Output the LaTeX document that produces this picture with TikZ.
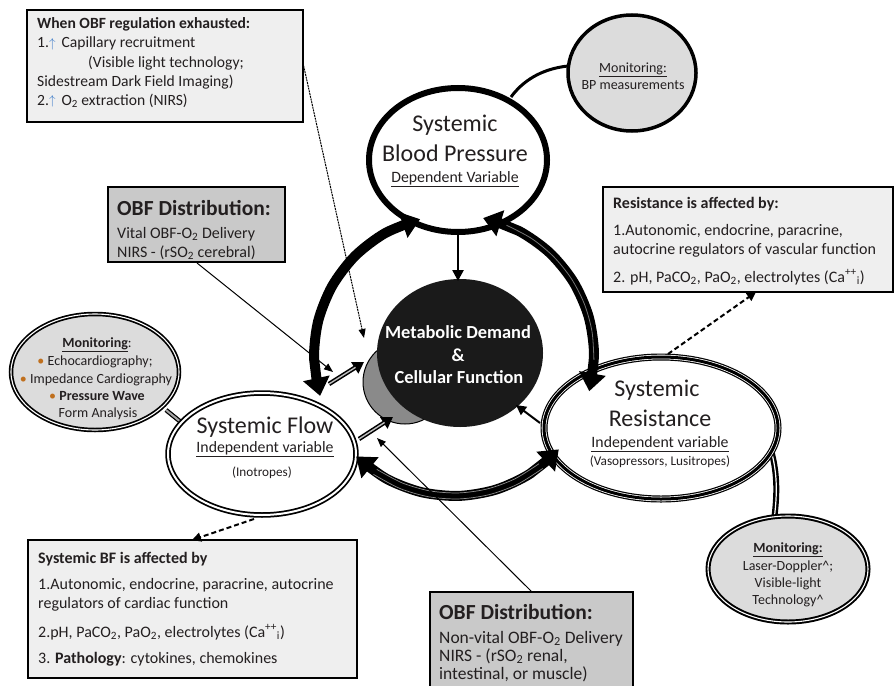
\documentclass[tikz,border=0pt]{standalone}
\usepackage{fontspec}
\setmainfont{Carlito}
\usetikzlibrary{arrows.meta,calc}
\definecolor{boxlight}{HTML}{EFEFEF}
\definecolor{boxgray}{HTML}{C9C9C9}
\definecolor{monfill}{HTML}{DCDCDC}
\definecolor{upblue}{HTML}{3D7CC9}
\definecolor{bulletc}{HTML}{C0701E}
\definecolor{txtc}{HTML}{231F20}
\definecolor{centerblack}{HTML}{1A1A1A}
\definecolor{centergray}{HTML}{8A8A8A}
\newcommand{\myfs}[2]{\fontsize{#1}{#2}\selectfont}
\newcommand{\upar}{\smash{\textcolor{upblue}{\raisebox{0.5pt}{\scalebox{0.9}{$\uparrow$}}}}}
\newcommand{\bul}{\textcolor{bulletc}{\textbullet}}
\newcommand{\mysub}[1]{\smash{\textsubscript{#1}}}
\newcommand{\mysup}[1]{\smash{\textsuperscript{#1}}}
\begin{document}
\begin{tikzpicture}[x=1pt,y=-1pt,
  boxline/.style={draw=black, line width=1.4pt},
  lbl/.style={inner sep=0pt, anchor=base west, text=txtc},
  clbl/.style={inner sep=0pt, anchor=base, text=txtc},
  thinarrow/.style={line width=1pt, -{Triangle[length=9pt,width=7pt]}},
  dasharrow/.style={line width=2pt, dash pattern=on 5pt off 3pt, -{Triangle[length=9pt,width=9pt]}},
  ringarrow/.style={line width=10pt, {Triangle[length=18pt,width=26pt]}-{Triangle[length=18pt,width=26pt]}},
  fatarrow/.style={line width=4.5pt, -{Triangle[length=11pt,width=13pt]}},
]
\useasboundingbox (0,0) rectangle (896,685);
\clip (0,0) rectangle (896,685);
\fill[white] (0,0) rectangle (896,685);

% ---------- boxes ----------
\draw[boxline, fill=boxlight] (27,10) rectangle (303,122);
\draw[boxline, fill=boxgray] (108,187) rectangle (285,262);
\draw[boxline, fill=boxlight] (603,187) rectangle (893,292);
\draw[boxline, fill=boxlight] (28,540) rectangle (357,678);
\draw[boxline, fill=boxgray] (430,592) rectangle (633,700);

% ---------- named points ----------
\coordinate (tlout) at (303,63);
\coordinate (vitout) at (197,263);
\coordinate (nvout) at (532,592);
\coordinate (tipA) at (364,338);
\coordinate (tipB) at (333,372);
\coordinate (tipC) at (377,438);
\coordinate (BPc) at (458,160);
\coordinate (FLc) at (262,454);
\coordinate (RSc) at (661,428);
\coordinate (MDc) at (460,353);
\coordinate (GRc) at (405,382);
\coordinate (M1c) at (95,372);
\coordinate (M2c) at (632,73);
\coordinate (M3c) at (788,569);

% ---------- monitoring connectors ----------
\coordinate (m2a) at (568,66);
\coordinate (m2b) at (511,97);
\draw[line width=3pt] (m2a) .. controls (540,69) and (522,82) .. (m2b);
\coordinate (m1a) at (166,410);
\coordinate (m1b) at (182,423);
\draw[line width=4.5pt] (m1a) -- (m1b);
\draw[line width=2pt, gray!70] (m1a) -- (m1b);
\coordinate (m3a) at (771,450);
\coordinate (m3b) at (774,520);
\draw[line width=6pt] (m3a) .. controls (778,475) and (777,497) .. (m3b);
\draw[line width=1.2pt, white] (m3a) .. controls (778,475) and (777,497) .. (m3b);

% ---------- monitoring ellipses ----------
\draw[line width=4.5pt, fill=monfill] (M1c) ellipse [x radius=84pt, y radius=58pt];
\draw[line width=1.1pt, white] (M1c) ellipse [x radius=84pt, y radius=58pt];
\draw[line width=3.5pt, fill=monfill] (M2c) ellipse [x radius=64pt, y radius=58pt];
\draw[line width=5pt, fill=monfill] (M3c) ellipse [x radius=80pt, y radius=53pt];
\draw[line width=1.1pt, white] (M3c) ellipse [x radius=80pt, y radius=53pt];

% ---------- main ellipses ----------
\draw[line width=6pt, fill=white] (BPc) ellipse [x radius=89pt, y radius=72pt];
\draw[line width=5.5pt, fill=white] (FLc) ellipse [x radius=94pt, y radius=61pt];
\draw[line width=2pt, white] (FLc) ellipse [x radius=94pt, y radius=61pt];
\draw[line width=7pt, fill=white] (RSc) ellipse [x radius=117pt, y radius=71pt];
\draw[line width=4.6pt, white] (RSc) ellipse [x radius=117pt, y radius=71pt];
\draw[line width=3pt] (RSc) ellipse [x radius=117pt, y radius=71pt];

% ---------- centre ----------
\draw[line width=1pt, fill=centergray] (GRc) circle [radius=42pt];
\fill[centerblack] (MDc) ellipse [x radius=83pt, y radius=74pt];

% ---------- ring arcs ----------
\draw[ringarrow] plot[smooth, samples=7, domain=163:256] ({454+140*cos(\x)},{355+140*sin(\x)});
\draw[ringarrow] plot[smooth, samples=7, domain=282:375] ({454+140*cos(\x)},{355+140*sin(\x)});
\draw[line width=0.8pt, black!55] plot[smooth, samples=7, domain=292:362] ({454+140*cos(\x)},{355+140*sin(\x)});
\draw[ringarrow] plot[smooth, samples=7, domain=42:134] ({454+141*cos(\x)},{355+141*sin(\x)});
\draw[line width=0.7pt, black!45] plot[smooth, samples=7, domain=52:124] ({454+138*cos(\x)},{355+138*sin(\x)});
\draw[line width=0.7pt, black!45] plot[smooth, samples=7, domain=52:124] ({454+144*cos(\x)},{355+144*sin(\x)});

% ---------- arrows into the centre ----------
\coordinate (bpbot) at (458,233);
\coordinate (mdtop) at (458,281);
\draw[line width=2.5pt, -{Triangle[length=11pt,width=11pt]}] (bpbot) -- (mdtop);
\coordinate (rsin) at (540,423);
\coordinate (mdright) at (516,405);
\draw[line width=2pt, -{Triangle[length=10pt,width=10pt]}] (rsin) -- (mdright);
\coordinate (fl1a) at (329,384);
\coordinate (fl1b) at (364,362);
\coordinate (fl2a) at (359,439);
\coordinate (fl2b) at (393,417);
\draw[fatarrow] (fl1a) -- (fl1b);
\draw[line width=1.4pt, white!75!black, shorten >=10pt] (fl1a) -- (fl1b);
\draw[fatarrow] (fl2a) -- (fl2b);
\draw[line width=1.4pt, white!75!black, shorten >=10pt] (fl2a) -- (fl2b);

% ---------- thin arrows ----------
\draw[thinarrow, dash pattern=on 2pt off 0.8pt] (tlout) -- (tipA);
\draw[thinarrow] (vitout) -- (tipB);
\draw[thinarrow] (nvout) -- (tipC);

% ---------- dashed arrows ----------
\coordinate (rstop) at (668,354);
\coordinate (rbox) at (756,292);
\draw[dasharrow] (rstop) -- (rbox);
\coordinate (flbot) at (254,519);
\coordinate (lbox) at (192,540);
\draw[dasharrow] (flbot) -- (lbox);

% ---------- texts: top-left box ----------
\node[lbl, font=\myfs{15.6}{18}] (tl1) at (37,29) {\textbf{When OBF regulation exhausted:}};
\node[lbl, font=\myfs{15.6}{18}] (tl2) at (37,48) {1.\upar\hspace{6pt}Capillary recruitment};
\node[lbl, font=\myfs{15.6}{18}] (tl3) at (88,67) {(Visible light technology;};
\node[lbl, font=\myfs{15.6}{18}] (tl4) at (37,86) {Sidestream Dark Field Imaging)};
\node[lbl, font=\myfs{15.6}{18}] (tl5) at (37,105) {2.\upar\hspace{6pt}O\mysub{2} extraction (NIRS)};

% ---------- vital box ----------
\node[lbl, font=\myfs{21.5}{24}\bfseries] (vt1) at (117,215) {OBF Distribution:};
\node[lbl, font=\myfs{16}{18}] (vt2) at (117,238) {Vital OBF-O\mysub{2} Delivery};
\node[lbl, font=\myfs{16}{18}] (vt3) at (117,257) {NIRS - (rSO\mysub{2} cerebral)};

% ---------- right box ----------
\node[lbl, font=\myfs{16}{18}\bfseries] (rb1) at (613,208) {Resistance is affected by:};
\node[lbl, font=\myfs{16}{18}] (rb2) at (613,235) {1.Autonomic, endocrine, paracrine,};
\node[lbl, font=\myfs{16}{18}] (rb3) at (613,254) {autocrine regulators of vascular function};
\node[lbl, font=\myfs{16}{18}] (rb4) at (613,282) {2. pH, PaCO\mysub{2}, PaO\mysub{2}, electrolytes (Ca\mysup{++}\mysub{i})};

% ---------- bottom-left box ----------
\node[lbl, font=\myfs{16}{18}\bfseries] (bl1) at (38,563) {Systemic BF is affected by};
\node[lbl, font=\myfs{16}{18}] (bl2) at (38,589) {1.Autonomic, endocrine, paracrine, autocrine};
\node[lbl, font=\myfs{16}{18}] (bl3) at (38,608) {regulators of cardiac function};
\node[lbl, font=\myfs{16}{18}] (bl4) at (38,637) {2.pH, PaCO\mysub{2}, PaO\mysub{2}, electrolytes (Ca\mysup{++}\mysub{i})};
\node[lbl, font=\myfs{16}{18}] (bl5) at (38,663) {3. \textbf{Pathology}: cytokines, chemokines};

% ---------- bottom box ----------
\node[lbl, font=\myfs{21.5}{24}\bfseries] (nv1) at (439,619) {OBF Distribution:};
\node[lbl, font=\myfs{17.5}{20}] (nv2) at (439,643) {Non-vital OBF-O\mysub{2} Delivery};
\node[lbl, font=\myfs{17.5}{20}] (nv3) at (439,661) {NIRS - (rSO\mysub{2} renal,};
\node[lbl, font=\myfs{17.5}{20}] (nv4) at (439,679) {intestinal, or muscle)};

% ---------- ellipse texts ----------
\node[clbl, font=\myfs{24}{27}] (bp1) at (455,131) {Systemic};
\node[clbl, font=\myfs{24}{27}] (bp2) at (455,161) {Blood Pressure};
\node[clbl, font=\myfs{15.8}{18}] (bp3) at (455,182) {\underline{Dependent Variable}};

\node[clbl, font=\myfs{24}{27}] (fl1) at (265,433) {Systemic Flow};
\node[clbl, font=\myfs{15.8}{18}] (fl2) at (265,452) {\underline{Independent variable}};
\node[clbl, font=\myfs{13.2}{15}] (fl3) at (262,476) {(Inotropes)};

\node[clbl, font=\myfs{24}{27}] (rs1) at (657,396) {Systemic};
\node[clbl, font=\myfs{24}{27}] (rs2) at (660,426) {Resistance};
\node[clbl, font=\myfs{15.8}{18}] (rs3) at (660,447) {\underline{Independent variable}};
\node[clbl, font=\myfs{13.3}{15}] (rs4) at (660,465) {(Vasopressors, Lusitropes)};

\node[clbl, font=\myfs{18.4}{21}\bfseries, text=white] (md1) at (458,338) {Metabolic Demand};
\node[clbl, font=\myfs{18.4}{21}\bfseries, text=white] (md2) at (458,361) {\&};
\node[clbl, font=\myfs{18.4}{21}\bfseries, text=white] (md3) at (459,383) {Cellular Function};

% ---------- monitoring texts ----------
\node[clbl, font=\myfs{14}{16}] (ma1) at (97,347) {\textbf{\underline{Monitoring}}:};
\node[clbl, font=\myfs{14}{16}] (ma2) at (95,365) {\bul\ Echocardiography;};
\node[clbl, font=\myfs{14}{16}] (ma3) at (96,383) {\bul\ Impedance Cardiography};
\node[clbl, font=\myfs{14}{16}] (ma4) at (97,400) {\bul\ \textbf{Pressure Wave}};
\node[clbl, font=\myfs{14}{16}] (ma5) at (98,417) {Form Analysis};

\node[clbl, font=\myfs{14}{16}] (mb1) at (633,72) {\underline{Monitoring:}};
\node[clbl, font=\myfs{14}{16}] (mb2) at (633,89) {BP measurements};

\node[clbl, font=\myfs{14}{16}] (mc1) at (788,552) {\textbf{\underline{Monitoring:}}};
\node[clbl, font=\myfs{14}{16}] (mc2) at (788,570) {Laser-Doppler\^{};};
\node[clbl, font=\myfs{14}{16}] (mc3) at (788,587) {Visible-light};
\node[clbl, font=\myfs{14}{16}] (mc4) at (788,604) {Technology\^{}};
\end{tikzpicture}
\end{document}
